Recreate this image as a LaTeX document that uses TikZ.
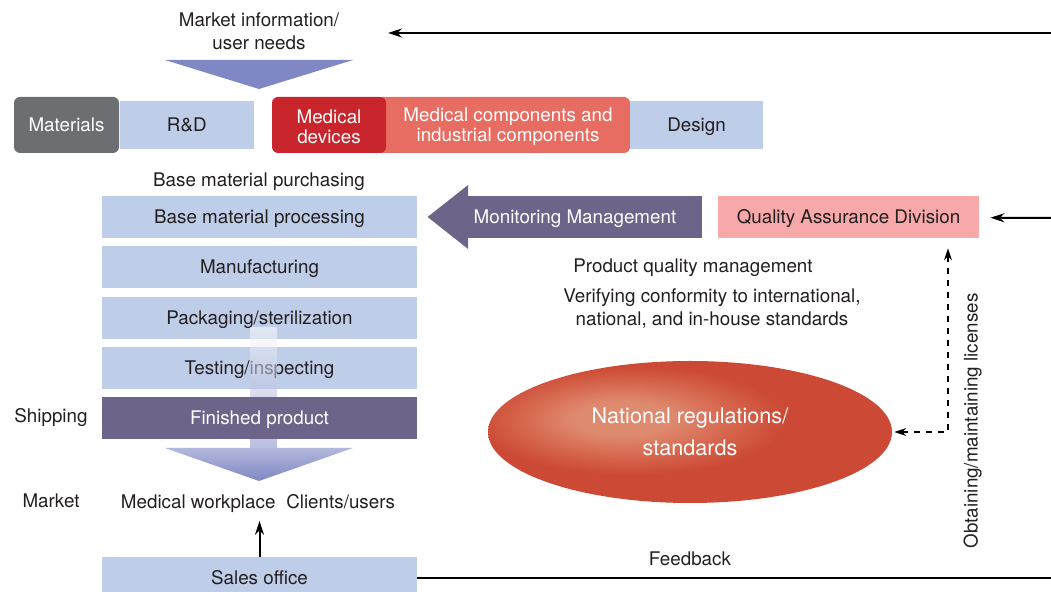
\documentclass[tikz,border=0pt]{standalone}
\usepackage{fontspec}
\setmainfont{TeX Gyre Heros}
\usepackage{xcolor}
\usetikzlibrary{shapes,arrows,arrows.meta,positioning,calc}
\definecolor{stageblue}{HTML}{BECDE8}
\definecolor{matgray}{HTML}{6D6E71}
\definecolor{devred}{HTML}{C9252C}
\definecolor{comppink}{HTML}{E76C62}
\definecolor{qapink}{HTML}{F7A8A8}
\definecolor{prodpurple}{HTML}{6C6489}
\definecolor{arrowblue}{HTML}{7F88C5}
\definecolor{textdark}{HTML}{231F20}
\definecolor{ellhi}{HTML}{DE8A6F}
\definecolor{ellmid}{HTML}{D6664E}
\definecolor{ellred}{HTML}{CC4A35}
\tikzstyle{arrow} = [line width=1pt,->,>={Stealth[length=7pt,width=4.5pt]}]
\tikzstyle{dasharrow} = [line width=0.8pt,dashed,<->,>={Stealth[length=6pt,width=4pt]}]
\tikzstyle{stage} = [fill=stageblue, text=textdark, minimum width=157.5pt, minimum height=21pt, inner sep=0pt, text height=6.5pt, text depth=0pt]
\tikzstyle{plaintext} = [text=textdark, inner sep=0pt, text height=6.5pt, text depth=0pt]
\tikzstyle{multitext} = [text=textdark, inner sep=0pt, align=center]
\pgfdeclareradialshading{regshading}{\pgfpoint{-9bp}{5bp}}{color(0bp)=(ellhi); color(6bp)=(ellhi); color(13bp)=(ellmid); color(19bp)=(ellred); color(100bp)=(ellred)}

\begin{document}
\begin{tikzpicture}[x=0.5pt,y=-0.5pt,font=\fontsize{9.4}{11}\selectfont]
        \useasboundingbox (0,0) rectangle (1051,592);

        % Market input
        \node[multitext, font=\fontsize{9.4}{11.25}\selectfont] (needs) at (259,31.5) {Market information/\\user needs};
        \fill[arrowblue] (165,60) -- (353,60) -- (259,89) -- cycle;
        \coordinate (needsin) at (1051,33);
        \coordinate (needsend) at (388,33);

        % Development row
        \node[fill=matgray,
        text=white,
        rounded corners=3pt,
        minimum width=52.5pt,
        minimum height=28pt,
        inner sep=0pt,
        text height=6.5pt,
        text depth=0pt] (materials) at (66.5,125) {Materials};

        \node[fill=stageblue,
        text=textdark,
        right=0pt of materials,
        minimum width=67pt,
        minimum height=24pt,
        inner sep=0pt,
        text height=6.5pt,
        text depth=0pt] (rnd) {R\&D};

        \node[fill=comppink,
        text=white,
        rounded corners=3pt,
        align=center,
        minimum width=127pt,
        minimum height=28pt,
        inner sep=0pt,
        font=\fontsize{9.4}{10}\selectfont] (components) at (503,125) {\rule{0pt}{8.6pt}\hspace*{5pt}Medical components and\\\hspace*{5pt}industrial components};

        \node[fill=devred,
        text=white,
        rounded corners=3pt,
        align=center,
        minimum width=57pt,
        minimum height=28pt,
        inner sep=0pt,
        font=\fontsize{9.4}{10}\selectfont] (devices) at (329,125) {\rule{0pt}{8.6pt}Medical\\devices};

        \node[fill=stageblue,
        text=textdark,
        minimum width=66.5pt,
        minimum height=24pt,
        inner sep=0pt,
        text height=6.5pt,
        text depth=0pt] (design) at (696.5,125) {Design};

        % Production column
        \node[plaintext] (purchasing) at (259,180) {Base material purchasing};

        \node[stage] (processing) at (259.5,217) {Base material processing};
        \node[stage, below=3.75pt of processing] (manufacturing) {Manufacturing};
        \node[stage, below=3.75pt of manufacturing] (packaging) {Packaging/sterilization};
        \node[stage, below=3.75pt of packaging] (testing) {Testing/inspecting};

        \shade[top color=white, bottom color=arrowblue, opacity=0.55] (250,328) rectangle (277,450);

        \node[stage,
        fill=prodpurple,
        text=white,
        below=3.75pt of testing] (finished) {Finished product};

        \shade[top color=arrowblue!60!white, bottom color=arrowblue] (165,448) -- (353,448) -- (259,481) -- cycle;

        \node[plaintext] (shipping) at (51,416) {Shipping};
        \node[plaintext] (market) at (51,501) {Market};
        \node[plaintext] (users) at (258,502) {Medical workplace\hspace{0.3em} Clients/users};

        \node[stage] (sales) at (259.5,578) {Sales office};

        % Quality side
        \node[fill=prodpurple,
        text=white,
        minimum width=117pt,
        minimum height=21pt,
        inner sep=0pt,
        text height=6.5pt,
        text depth=0pt] (monitor) at (585,217) {Monitoring Management\hspace*{10pt}};
        \fill[prodpurple] ($(monitor.west)+(0.5,-32)$) -- ($(monitor.west)+(-40,0)$) -- ($(monitor.west)+(0.5,32)$) -- cycle;

        \node[fill=qapink,
        text=textdark,
        minimum width=130.5pt,
        minimum height=21pt,
        inner sep=0pt,
        text height=6.5pt,
        text depth=0pt] (qad) at (848.5,217) {Quality Assurance Division};
        \coordinate (qadin) at (1051,218);

        \node[plaintext] (pqm) at (693,266) {Product quality management};
        \node[multitext, font=\fontsize{9.4}{11.75}\selectfont] (verify) at (712,308.5) {Verifying conformity to international,\\national, and in-house standards};

        \node[ellipse,
        shade,
        shading=regshading,
        text=white,
        align=center,
        minimum width=202pt,
        minimum height=71pt,
        inner sep=0pt,
        font=\fontsize{10.8}{16}\selectfont] (regs) at (690,432) {National regulations/\\standards};

        \coordinate (lic) at (948,435);
        \node[plaintext, rotate=90] (licenses) at (971,421) {Obtaining/maintaining licenses};

        \node[plaintext] (feedback) at (690,559) {Feedback};
        \coordinate (fbend) at (1051,578);

        % Connectors
        \draw [arrow] (needsin) -- (needsend);
        \draw [arrow, shorten >=5.5pt] (qadin) -- (qad);
        \draw [dasharrow, shorten <=1pt, shorten >=5pt] (regs) -| (qad.south -| lic);
        \draw [arrow, shorten >=6pt] (sales.north) -- (sales.north |- users.south);
        \draw [line width=1pt] (sales) -- (fbend);

\end{tikzpicture}
\end{document}
